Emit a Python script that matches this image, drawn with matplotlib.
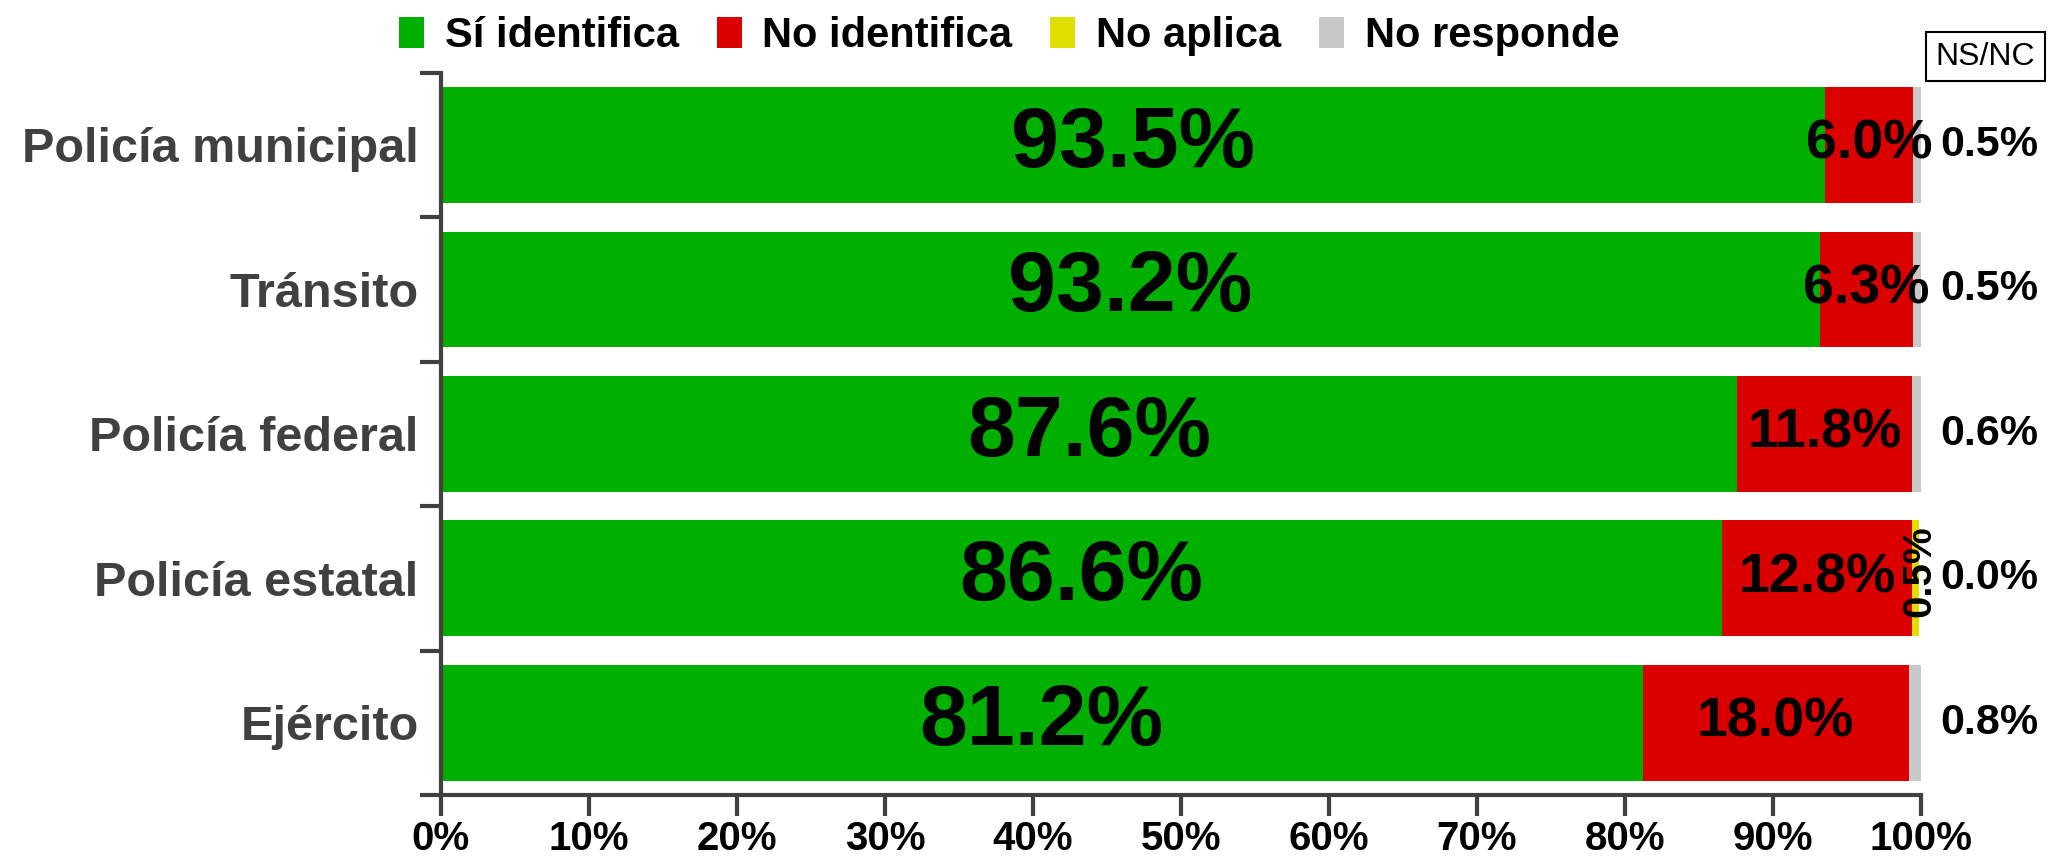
import numpy as np
import matplotlib
matplotlib.use('Agg')
import matplotlib.pyplot as plt

plt.rcParams['font.family'] = ['Liberation Sans', 'DejaVu Sans']

# data
categorias = ['Policía municipal', 'Tránsito', 'Policía federal', 'Policía estatal', 'Ejército']
si_identifica = [93.5, 93.2, 87.6, 86.6, 81.2]
no_identifica = [6.0, 6.3, 11.8, 12.8, 18.0]
no_aplica = [0.0, 0.0, 0.0, 0.5, 0.0]
no_responde = [0.5, 0.5, 0.6, 0.0, 0.8]
series = ['Sí identifica', 'No identifica', 'No aplica', 'No responde']
colores = ['#00B000', '#DA0000', '#DEDE00', '#C8C8C8']
xticks = [0, 10, 20, 30, 40, 50, 60, 70, 80, 90, 100]

gris = '#404040'

fig = plt.figure(figsize=(20.51, 8.58), dpi=100)
ax = fig.add_axes([0.215, 0.0734, 0.7215, 0.842])

y = np.arange(len(categorias))
valores = [si_identifica, no_identifica, no_aplica, no_responde]
left = np.zeros(len(categorias))
for vals, nombre, c in zip(valores, series, colores):
    ax.barh(y, vals, left=left, height=0.8, color=c, label=nombre)
    left = left + np.array(vals)

ax.set_ylim(len(categorias) - 0.5, -0.5)
ax.set_xlim(0, 100)

# etiquetas dentro de las barras
for i in range(len(categorias)):
    s = si_identifica[i]
    n = no_identifica[i]
    ax.text(s / 2, i, f'{s:.1f}%', ha='center', va='center',
            fontsize=62, fontweight='bold', color='black')
    ax.text(s + n / 2, i, f'{n:.1f}%', ha='center', va='center',
            fontsize=40, fontweight='bold', color='black')
    if no_aplica[i] > 0:
        ax.text(s + n + no_aplica[i], i - 0.05, f'{no_aplica[i]:.1f}%',
                ha='center', va='center', rotation=90,
                fontsize=29, fontweight='bold', color='black', clip_on=False)
    ax.text(104.6, i, f'{no_responde[i]:.1f}%', ha='center', va='center',
            fontsize=31, fontweight='bold', color='black', clip_on=False)

# ejes
for side in ['top', 'right']:
    ax.spines[side].set_visible(False)
for side in ['left', 'bottom']:
    ax.spines[side].set_color(gris)
    ax.spines[side].set_linewidth(3)

ax.set_xticks(xticks)
ax.set_xticklabels([f'{t}%' for t in xticks], fontsize=29, fontweight='bold')
ax.tick_params(axis='x', length=15, width=3, color=gris, pad=3)

ax.set_yticks(y)
ax.set_yticklabels(categorias, fontsize=35, fontweight='bold', color=gris)
ax.tick_params(axis='y', which='major', length=0, pad=16)
ax.set_yticks(np.arange(-0.5, len(categorias), 1.0), minor=True)
ax.tick_params(axis='y', which='minor', length=15, width=3, color=gris)

fig.legend(loc='center', bbox_to_anchor=(0.492, 0.958), ncol=4, frameon=False,
           prop={'size': 30, 'weight': 'bold'}, handlelength=0.6, handleheight=0.75,
           handletextpad=0.5, columnspacing=0.9)

fig.text(0.968, 0.934, 'NS/NC', ha='center', va='center', fontsize=23,
         bbox=dict(boxstyle='square,pad=0.3', facecolor='white', edgecolor='black', linewidth=1.5))

fig.savefig('out.png', dpi=100)
